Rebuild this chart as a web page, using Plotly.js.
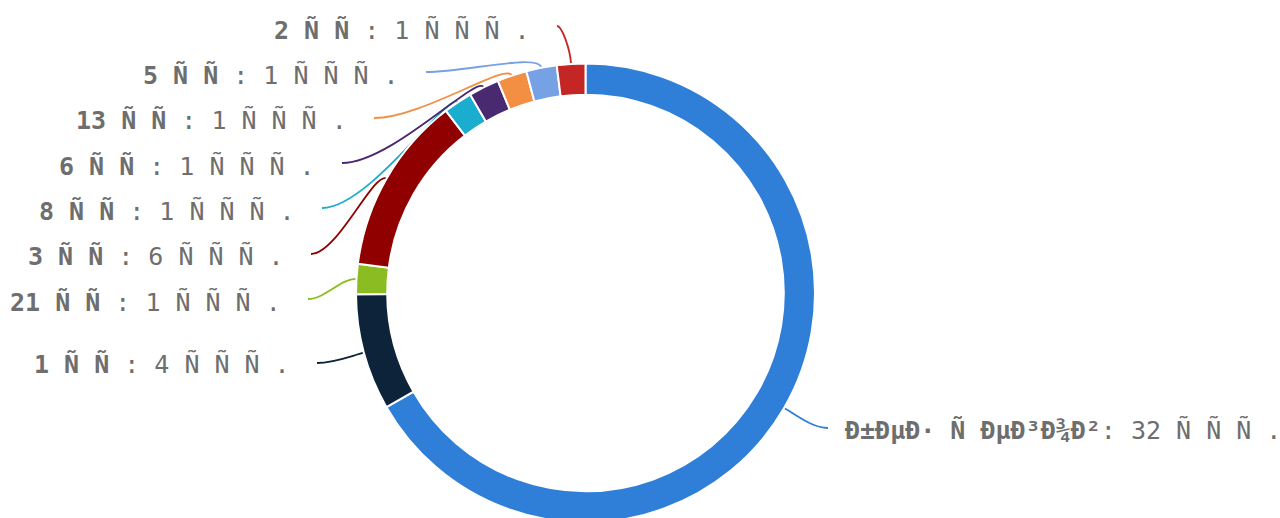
<!DOCTYPE html>
<html><head><meta charset="utf-8">
<script src="https://cdn.plot.ly/plotly-3.0.1.min.js"></script>
<style>html,body{margin:0;padding:0;overflow:hidden;background:#fff}</style>
</head><body><div id="chart" style="width:1280px;height:530px"></div>
<script>
// Data (labels as they appear in the reference)
const categories = [
  '\u00D0\u00B1\u00D0\u00B5\u00D0\u00B7 \u00D1\u0082\u00D0\u00B5\u00D0\u00B3\u00D0\u00BE\u00D0\u00B2',
  '1 \u00D1\u0088\u00D1\u0082',
  '21 \u00D1\u0088\u00D1\u0082',
  '3 \u00D1\u0088\u00D1\u0082',
  '8 \u00D1\u0088\u00D1\u0082',
  '6 \u00D1\u0088\u00D1\u0082',
  '13 \u00D1\u0088\u00D1\u0082',
  '5 \u00D1\u0088\u00D1\u0082',
  '2 \u00D1\u0088\u00D1\u0082'
];
const values = [32000, 3940, 1010, 6030, 970, 1030, 1000, 1030, 960];
const unitSuffix = ' \u00D1\u0082\u00D1\u008B\u00D1\u0081.';
const colors = ['#2f7ed8','#0d233a','#8bbc21','#910000','#1aadce','#492970','#f28f43','#77a1e5','#c42525'];

// Layout constants (pixels)
const W = 1280, H = 530;
const CX = 585.5, CY = 293, R = 229.5, HOLE = 0.864;
const labelPos = [
  {ex:828, ey:428, ty:430, side:1},
  {ex:317, ey:363, ty:364, side:-1},
  {ex:308, ey:299, ty:302, side:-1},
  {ex:311, ey:254, ty:256, side:-1},
  {ex:322, ey:208, ty:211, side:-1},
  {ex:342, ey:163, ty:166, side:-1},
  {ex:374, ey:118, ty:120, side:-1},
  {ex:426, ey:72,  ty:75,  side:-1},
  {ex:557, ey:26,  ty:30,  side:-1}
];
const FONT = {family:'DejaVu Sans Mono', size:25, color:'#6e6e6e'};
const CTRL_SIZE = 19;

// wrap invisible C1 characters so their advance matches the reference cells
function fmt(s){
  return s.replace(/([\u0080-\u009F])/g, `<span style="font-size:${CTRL_SIZE}px">$1</span>`);
}

const total = values.reduce((a,b)=>a+b,0);
const shapes = [], annotations = [];
let cum = 0;
values.forEach((v,i)=>{
  const mid = (cum + v/2)/total*2*Math.PI; cum += v;
  const ux = Math.sin(mid), uy = -Math.cos(mid);
  const x0 = CX + R*ux, y0 = CY + R*uy;
  const lp = labelPos[i];
  const dx = Math.abs(lp.ex - x0);
  const L1 = 15, L2 = 0.35*dx;
  const c1x = x0 + ux*L1, c1y = y0 + uy*L1;
  const c2x = lp.ex - lp.side*L2, c2y = lp.ey;
  shapes.push({type:'path', xref:'x', yref:'y', layer:'below',
    path:`M${x0},${y0} C${c1x},${c1y} ${c2x},${c2y} ${lp.ex},${lp.ey}`,
    line:{color:colors[i], width:1.8}});
  annotations.push({xref:'x', yref:'y', showarrow:false, borderpad:0,
    x: lp.side < 0 ? lp.ex - 26 : lp.ex + 16, y: lp.ty,
    xanchor: lp.side < 0 ? 'right' : 'left', yanchor:'middle',
    text:`<b>${fmt(categories[i])}</b>: ${Math.round(values[i]/1000)}${fmt(unitSuffix)}`,
    font:FONT});
});

const trace = {
  type:'pie', values:values, labels:categories, sort:false,
  direction:'clockwise', rotation:0, hole:HOLE,
  marker:{colors:colors, line:{color:'#ffffff', width:2}},
  textinfo:'none', hoverinfo:'none', showlegend:false,
  domain:{x:[(CX-R)/W,(CX+R)/W], y:[1-(CY+R)/H, 1-(CY-R)/H]}
};
const layout = {
  width:W, height:H, margin:{l:0,r:0,t:0,b:0},
  paper_bgcolor:'#fff', plot_bgcolor:'rgba(0,0,0,0)', showlegend:false,
  xaxis:{range:[0,W], visible:false, fixedrange:true},
  yaxis:{range:[H,0], visible:false, fixedrange:true},
  shapes:shapes, annotations:annotations
};
Plotly.newPlot('chart',[trace],layout,{staticPlot:true, displayModeBar:false});
</script></body></html>
